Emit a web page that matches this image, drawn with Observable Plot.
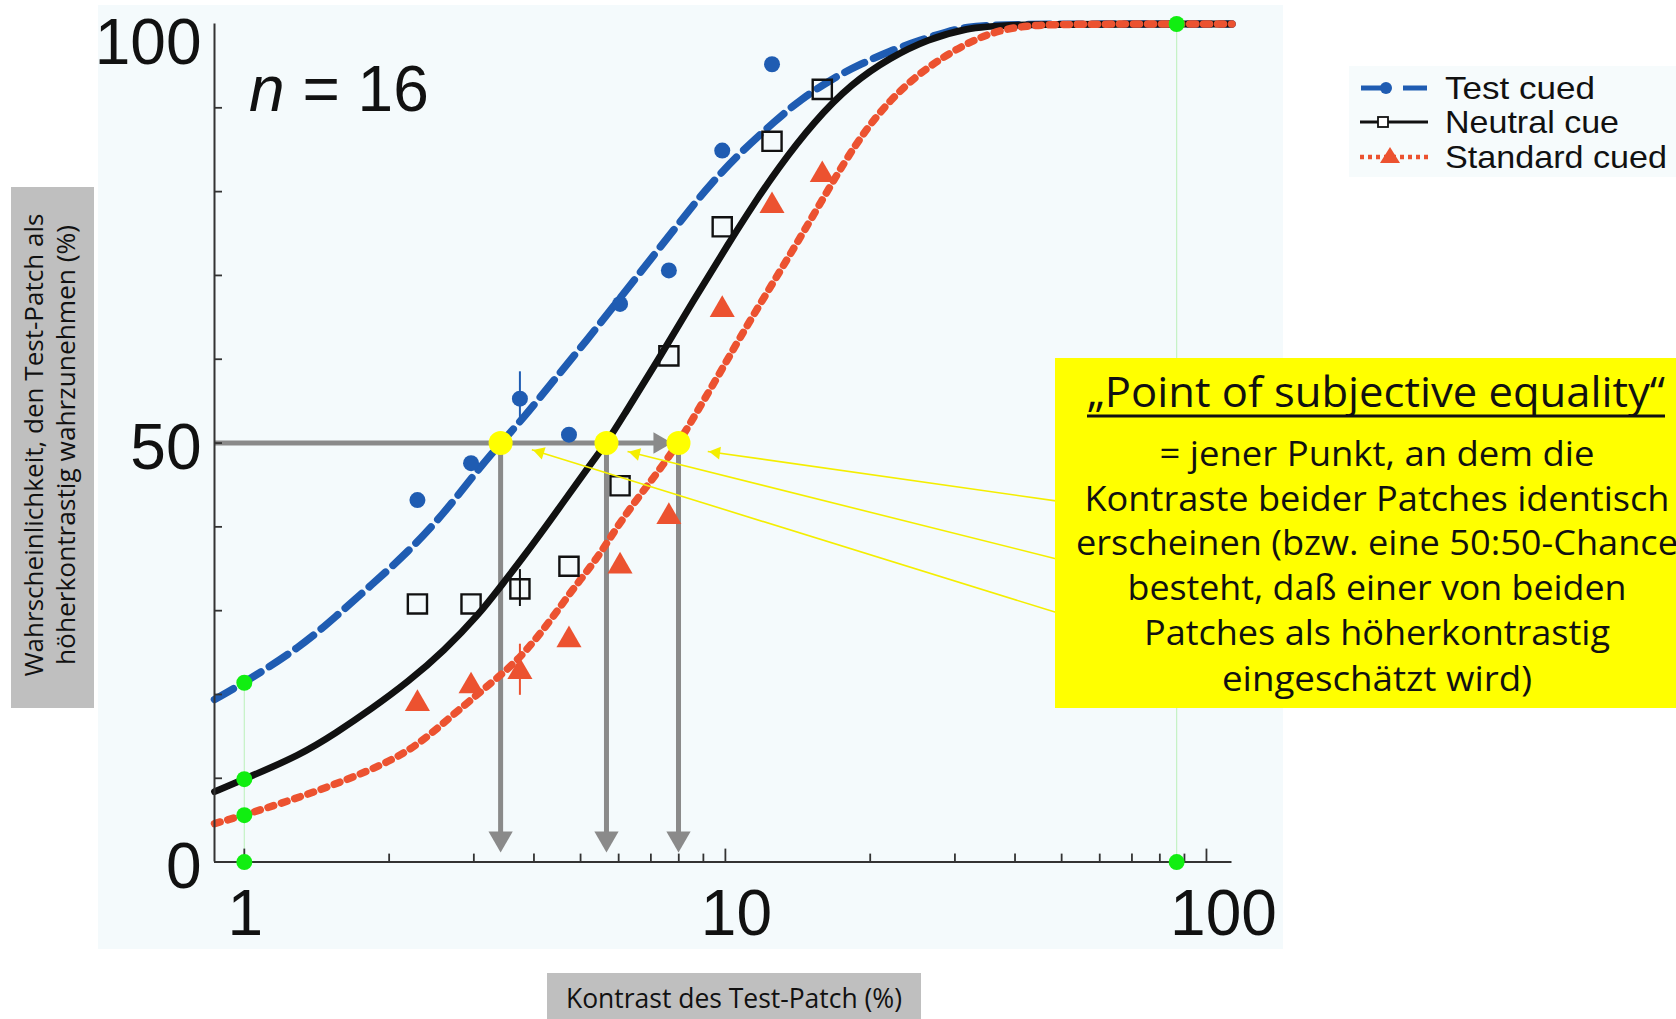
<!DOCTYPE html>
<html>
<head>
<meta charset="utf-8">
<script src="https://cdn.jsdelivr.net/npm/d3@7"></script>
<script src="https://cdn.jsdelivr.net/npm/@observablehq/plot@0.6"></script>
<style>
html, body { margin: 0; padding: 0; background: #ffffff; overflow: hidden; }
#wrap { position: relative; width: 1676px; height: 1019px; }
#panel { position: absolute; left: 98px; top: 5px; width: 1185px; height: 944px; background: #f4fafc; }
#chart { position: absolute; left: 0; top: 0; }
#overlay { position: absolute; left: 0; top: 0; }
</style>
</head>
<body>
<div id="wrap">
  <div id="panel"></div>
  <div id="chart"></div>
  <svg id="overlay" width="1676" height="1019"></svg>
</div>
<script>
// ---------------- DATA ----------------
const xDomain = [0.867, 113];
const yDomain = [0, 100];
const yMinorTicks = [10, 20, 30, 40, 50, 60, 70, 80, 90];
const xMinorTicks = [2, 3, 4, 5, 6, 7, 8, 9, 20, 30, 40, 50, 60, 70, 80, 90];
const xMajorTicks = [1, 10, 100];
const xTickLabels = ["1", "10", "100"];
const yLabelLow = [0, 50];
const yLabelTop = [100];

const seriesNames = ["Test cued", "Neutral cue", "Standard cued"];

// measured contrasts (%) of the data points
const contrast = [2.29, 2.96, 3.74, 4.73, 6.04, 7.63, 9.85, 12.5, 15.9];
const testCued = [43.2, 47.6, 55.3, 51.0, 66.6, 70.6, 84.9, 95.2];
const neutralCue = [30.8, 30.8, 32.6, 35.3, 44.9, 60.4, 75.8, 86.0, 92.2];
const standardCued = [18.9, 21.0, 22.7, 26.5, 35.3, 41.2, 65.9, 78.3, 82.0];

// error bars at contrast 3.74
const errX = 3.74;
const errTest = [52.1, 58.5];
const errNeutral = [30.5, 34.9];
const errStandard = [19.9, 26.0];

// fitted psychometric curves
const testCurveX = [0.867, 1, 1.31, 1.55, 1.84, 2.19, 2.60, 2.97, 3.41, 3.78, 4.33, 5.14, 6.10, 7.23, 8.58, 9.22, 10.66, 12.79, 14.26, 16.8, 19.1, 22.0, 25.5, 28.9, 31.7, 36, 113];
const testCurveY = [19.4, 21.4, 25.7, 29.3, 33.1, 37.0, 41.6, 45.9, 50.0, 52.8, 57.0, 62.2, 67.6, 73.0, 78.4, 80.6, 84.5, 88.6, 90.9, 93.6, 95.2, 96.8, 98.1, 99.1, 99.6, 100, 100];
const neutralCurveX = [0.867, 1, 1.31, 1.55, 1.84, 2.19, 2.60, 3.08, 3.41, 3.78, 4.33, 5.14, 5.66, 6.10, 7.23, 8.58, 10.2, 11.45, 12.79, 15.3, 18.3, 22.0, 26.4, 31.7, 38, 113];
const neutralCurveY = [8.4, 9.9, 12.8, 15.4, 18.3, 21.5, 25.2, 29.6, 32.9, 36.2, 40.8, 46.8, 50.0, 53.0, 59.8, 67.0, 74.0, 78.5, 82.6, 88.4, 92.9, 96.0, 98.2, 99.5, 100, 100];
const standardCurveX = [0.867, 1, 1.40, 1.95, 2.30, 2.68, 3.08, 3.41, 3.78, 4.33, 4.79, 5.41, 5.89, 6.54, 7.23, 7.99, 8.58, 9.66, 10.7, 12.1, 13.8, 15.6, 17.7, 19.7, 22.0, 24.6, 27.4, 31.7, 36.6, 42.2, 50, 113];
const standardCurveY = [4.6, 5.6, 8.3, 11.6, 14.0, 17.3, 20.2, 22.3, 24.6, 28.8, 32.4, 36.2, 39.6, 43.3, 46.5, 50.0, 53.0, 58.0, 62.5, 67.6, 73.0, 78.2, 83.6, 87.6, 90.9, 93.5, 95.5, 97.7, 99.2, 99.8, 100, 100];

// points of subjective equality
const pse = [3.41, 5.66, 7.99];
const pseLevel = 50;
const arrowTipY = 1.15;
const hArrowTip = 7.77;

// annotation leader lines (from the text box to the PSE points)
const noteFromX = [48.6, 48.6, 48.6];
const noteFromY = [43.1, 36.2, 29.8];
const noteToX = [9.19, 6.26, 3.96];
const noteToY = [49.0, 49.0, 49.2];

// green marker dots
const greenX = [1, 1, 1, 1, 86.7, 86.7];
const greenY = [21.4, 9.9, 5.6, 0, 100, 0];
const greenGuideX = [1, 86.7];
const greenGuideTop = [21.4, 100];

const nLabel = "16";
const yTitle = ["Wahrscheinlichkeit, den Test-Patch als", "höherkontrastig wahrzunehmen (%)"];
const xTitle = "Kontrast des Test-Patch (%)";
const noteTitle = "„Point of subjective equality“";
const noteLines = [
  "= jener Punkt, an dem die",
  "Kontraste beider Patches identisch",
  "erscheinen (bzw. eine 50:50-Chance",
  "besteht, daß einer von beiden",
  "Patches als höherkontrastig",
  "eingeschätzt wird)"
];

// ---------------- STYLE ----------------
const BLUE = "#1f5cb2";
const BLACK = "#111111";
const RED = "#ec5230";
const GRAY = "#8a8a8a";
const YELLOW = "#ffff00";
const LEADER = "#f4ee00";
const GREEN = "#11ee11";

const W = 1676, H = 1019;
const mL = 214, mR = 444.5, mT = 23.5, mB = 157.4;

const pts = (xs, ys) => xs.map((x, i) => ({x, y: ys[i]}));

// scales (for orienting the small leader arrow heads)
const sx = Plot.scale({x: {type: "log", domain: xDomain, range: [mL, W - mR]}});
const sy = Plot.scale({y: {type: "linear", domain: yDomain, range: [H - mB, mT]}});
const headLen = 13;
const leaderHeads = noteToX.map((x, i) => {
  const px1 = sx.apply(noteFromX[i]), py1 = sy.apply(noteFromY[i]);
  const px2 = sx.apply(x), py2 = sy.apply(noteToY[i]);
  const dxp = px2 - px1, dyp = py2 - py1, L = Math.hypot(dxp, dyp);
  const ux = dxp / L, uy = dyp / L;
  return {
    x, y: noteToY[i],
    rotate: Math.atan2(ux, -uy) * 180 / Math.PI,
    ox: -ux * headLen * 2 / 3, oy: -uy * headLen * 2 / 3
  };
});

const chart = Plot.plot({
  width: W,
  height: H,
  marginLeft: mL,
  marginRight: mR,
  marginTop: mT,
  marginBottom: mB,
  style: {background: "transparent", fontFamily: "'Liberation Sans', Arial, sans-serif", overflow: "visible"},
  x: {type: "log", domain: xDomain},
  y: {domain: yDomain},
  marks: [
    // faint green guides
    Plot.ruleX(greenGuideX.map((x, i) => ({x, y1: 0, y2: greenGuideTop[i]})), {x: "x", y1: "y1", y2: "y2", stroke: "#c4f2c4", strokeWidth: 1.2}),
    // gray PSE guides
    Plot.ruleY([{y: pseLevel, x1: xDomain[0], x2: hArrowTip}], {y: "y", x1: "x1", x2: "x2", stroke: GRAY, strokeWidth: 5}),
    Plot.ruleX(pse.map(x => ({x, y1: pseLevel, y2: arrowTipY + 2})), {x: "x", y1: "y1", y2: "y2", stroke: GRAY, strokeWidth: 5}),
    // curves
    Plot.line(pts(testCurveX, testCurveY), {x: "x", y: "y", curve: "basis", stroke: BLUE, strokeWidth: 7.5, strokeDasharray: "22,10"}),
    Plot.line(pts(neutralCurveX, neutralCurveY), {x: "x", y: "y", curve: "basis", stroke: BLACK, strokeWidth: 6.8}),
    Plot.line(pts(standardCurveX, standardCurveY), {x: "x", y: "y", curve: "basis", stroke: RED, strokeWidth: 7.5, strokeDasharray: "6,8"}),
    // error bars
    Plot.ruleX([{x: errX, y1: errTest[0], y2: errTest[1]}], {x: "x", y1: "y1", y2: "y2", stroke: BLUE, strokeWidth: 2}),
    Plot.ruleX([{x: errX, y1: errNeutral[0], y2: errNeutral[1]}], {x: "x", y1: "y1", y2: "y2", stroke: BLACK, strokeWidth: 2}),
    Plot.ruleX([{x: errX, y1: errStandard[0], y2: errStandard[1]}], {x: "x", y1: "y1", y2: "y2", stroke: RED, strokeWidth: 2}),
    // data points
    Plot.dot(pts(contrast, testCued), {x: "x", y: "y", r: 8, fill: BLUE, stroke: "none"}),
    Plot.dot(pts(contrast, neutralCue), {x: "x", y: "y", symbol: "square", r: 10.8, fill: "none", stroke: BLACK, strokeWidth: 2.4}),
    Plot.dot(pts(contrast, standardCued), {x: "x", y: "y", symbol: "triangle", r: 9.3, fill: RED, stroke: "none"}),
    // axes
    Plot.ruleX([xDomain[0]], {stroke: "#333", strokeWidth: 2}),
    Plot.ruleY([yDomain[0]], {stroke: "#333", strokeWidth: 2}),
    Plot.axisY(yMinorTicks, {anchor: "left", tickSize: 8, dx: 8, tickFormat: () => "", stroke: "#333", strokeWidth: 1.8, label: null}),
    Plot.axisX(xMinorTicks, {anchor: "bottom", tickSize: 8, dy: -8, tickFormat: () => "", stroke: "#333", strokeWidth: 1.8, label: null}),
    Plot.axisX(xMajorTicks, {anchor: "bottom", tickSize: 13, dy: -13, tickFormat: () => "", stroke: "#333", strokeWidth: 1.8, label: null}),
    // gray arrow heads
    Plot.dot(pse, {x: d => d, y: () => arrowTipY, symbol: "triangle", rotate: 180, r: 9, dy: -14, fill: GRAY, stroke: "none"}),
    Plot.dot([hArrowTip], {x: d => d, y: () => pseLevel, symbol: "triangle", rotate: 90, r: 8, dx: -13, fill: GRAY, stroke: "none"}),
    // PSE markers
    Plot.dot(pse, {x: d => d, y: () => pseLevel, r: 12, fill: YELLOW, stroke: "none"}),
    // leader lines with filled heads
    Plot.link(noteFromX.map((x, i) => ({x1: x, y1: noteFromY[i], x2: noteToX[i], y2: noteToY[i]})), {x1: "x1", y1: "y1", x2: "x2", y2: "y2", stroke: LEADER, strokeWidth: 1.6}),
    ...leaderHeads.map(h => Plot.dot([h], {x: "x", y: "y", rotate: "rotate", symbol: "triangle", r: 4.8, dx: h.ox, dy: h.oy, fill: LEADER, stroke: "none"})),
    // green markers
    Plot.dot(pts(greenX, greenY), {x: "x", y: "y", r: 8, fill: GREEN, stroke: "none"}),
    // tick labels
    Plot.text([xMajorTicks[0]], {x: d => d, text: () => xTickLabels[0], frameAnchor: "bottom", dy: 52, dx: 1, fontSize: 64, fill: "#111", lineAnchor: "middle"}),
    Plot.text([xMajorTicks[1]], {x: d => d, text: () => xTickLabels[1], frameAnchor: "bottom", dy: 52, dx: 11, fontSize: 64, fill: "#111", lineAnchor: "middle"}),
    Plot.text([xMajorTicks[2]], {x: d => d, text: () => xTickLabels[2], frameAnchor: "bottom", dy: 52, dx: 17, fontSize: 64, fill: "#111", lineAnchor: "middle"}),
    Plot.text(yLabelLow, {y: d => d, text: d => String(d), frameAnchor: "left", dx: -13, dy: 5, textAnchor: "end", fontSize: 64, fill: "#111", lineAnchor: "middle"}),
    Plot.text(yLabelTop, {y: d => d, text: d => String(d), frameAnchor: "left", dx: -13, dy: 20, textAnchor: "end", fontSize: 64, fill: "#111", lineAnchor: "middle"})
  ]
});
document.getElementById("chart").appendChild(chart);

// ---------------- OVERLAY: titles, note, legend ----------------
const svg = d3.select("#overlay");
const sans = "'Liberation Sans', Arial, sans-serif";
const noteFont = "'Open Sans', 'Noto Sans', sans-serif";

// n = 16
const nt = svg.append("text").attr("x", 249).attr("y", 111).attr("font-family", sans).attr("font-size", 64).attr("fill", "#111");
nt.append("tspan").attr("font-style", "italic").text("n");
nt.append("tspan").text(" = " + nLabel);

// y-axis title
svg.append("rect").attr("x", 11).attr("y", 187).attr("width", 83).attr("height", 521).attr("fill", "#bfbfbf");
const yBase = [43, 75], yLen = [463, 440];
yTitle.forEach((t, i) => {
  svg.append("text")
    .attr("transform", `translate(${yBase[i]},445) rotate(-90)`)
    .attr("text-anchor", "middle").attr("font-family", noteFont).attr("font-size", 26)
    .attr("textLength", yLen[i]).attr("lengthAdjust", "spacingAndGlyphs").attr("fill", "#111").text(t);
});

// x-axis title
svg.append("rect").attr("x", 547).attr("y", 973).attr("width", 374).attr("height", 46).attr("fill", "#bfbfbf");
svg.append("text").attr("x", 734).attr("y", 1008).attr("text-anchor", "middle").attr("font-family", noteFont)
  .attr("font-size", 28).attr("textLength", 336).attr("lengthAdjust", "spacingAndGlyphs").attr("fill", "#111").text(xTitle);

// legend
svg.append("rect").attr("x", 1349).attr("y", 66).attr("width", 327).attr("height", 111).attr("fill", "#f6fbfc");
const legY = [88, 122, 157], legLen = [150, 174, 222];
const lg = svg.append("g");
lg.append("line").attr("x1", 1361).attr("x2", 1381).attr("y1", legY[0]).attr("y2", legY[0]).attr("stroke", BLUE).attr("stroke-width", 5);
lg.append("circle").attr("cx", 1386).attr("cy", legY[0]).attr("r", 6).attr("fill", BLUE);
lg.append("line").attr("x1", 1403).attr("x2", 1427).attr("y1", legY[0]).attr("y2", legY[0]).attr("stroke", BLUE).attr("stroke-width", 5);
lg.append("line").attr("x1", 1360).attr("x2", 1428).attr("y1", legY[1]).attr("y2", legY[1]).attr("stroke", BLACK).attr("stroke-width", 3);
lg.append("rect").attr("x", 1378).attr("y", legY[1] - 5).attr("width", 10).attr("height", 10).attr("fill", "#ffffff").attr("stroke", BLACK).attr("stroke-width", 1.8);
lg.append("line").attr("x1", 1360).attr("x2", 1428).attr("y1", legY[2]).attr("y2", legY[2]).attr("stroke", RED).attr("stroke-width", 4.5).attr("stroke-dasharray", "4,4");
lg.append("path").attr("d", `M1390,${legY[2] - 10}L1400,${legY[2] + 6}L1380,${legY[2] + 6}Z`).attr("fill", RED);
seriesNames.forEach((t, i) => {
  lg.append("text").attr("x", 1445).attr("y", legY[i] + 11).attr("font-family", sans).attr("font-size", 32)
    .attr("textLength", legLen[i]).attr("lengthAdjust", "spacingAndGlyphs").attr("fill", "#111").text(t);
});

// yellow note box
svg.append("rect").attr("x", 1055).attr("y", 358).attr("width", 630).attr("height", 350).attr("fill", YELLOW);
svg.append("text").attr("x", 1376).attr("y", 407).attr("text-anchor", "middle").attr("font-family", noteFont)
  .attr("font-size", 42).attr("textLength", 578).attr("lengthAdjust", "spacingAndGlyphs").attr("fill", "#111").text(noteTitle);
svg.append("line").attr("x1", 1087).attr("x2", 1665).attr("y1", 416).attr("y2", 416).attr("stroke", "#111").attr("stroke-width", 3);
const noteBase = [466, 511, 555, 600, 645, 691];
const noteLen = [435, 585, 602, 499, 466, 310];
noteLines.forEach((t, i) => {
  svg.append("text").attr("x", 1377).attr("y", noteBase[i]).attr("text-anchor", "middle").attr("font-family", noteFont)
    .attr("font-size", 35).attr("textLength", noteLen[i]).attr("lengthAdjust", "spacingAndGlyphs").attr("fill", "#111").text(t);
});
</script>
</body>
</html>
